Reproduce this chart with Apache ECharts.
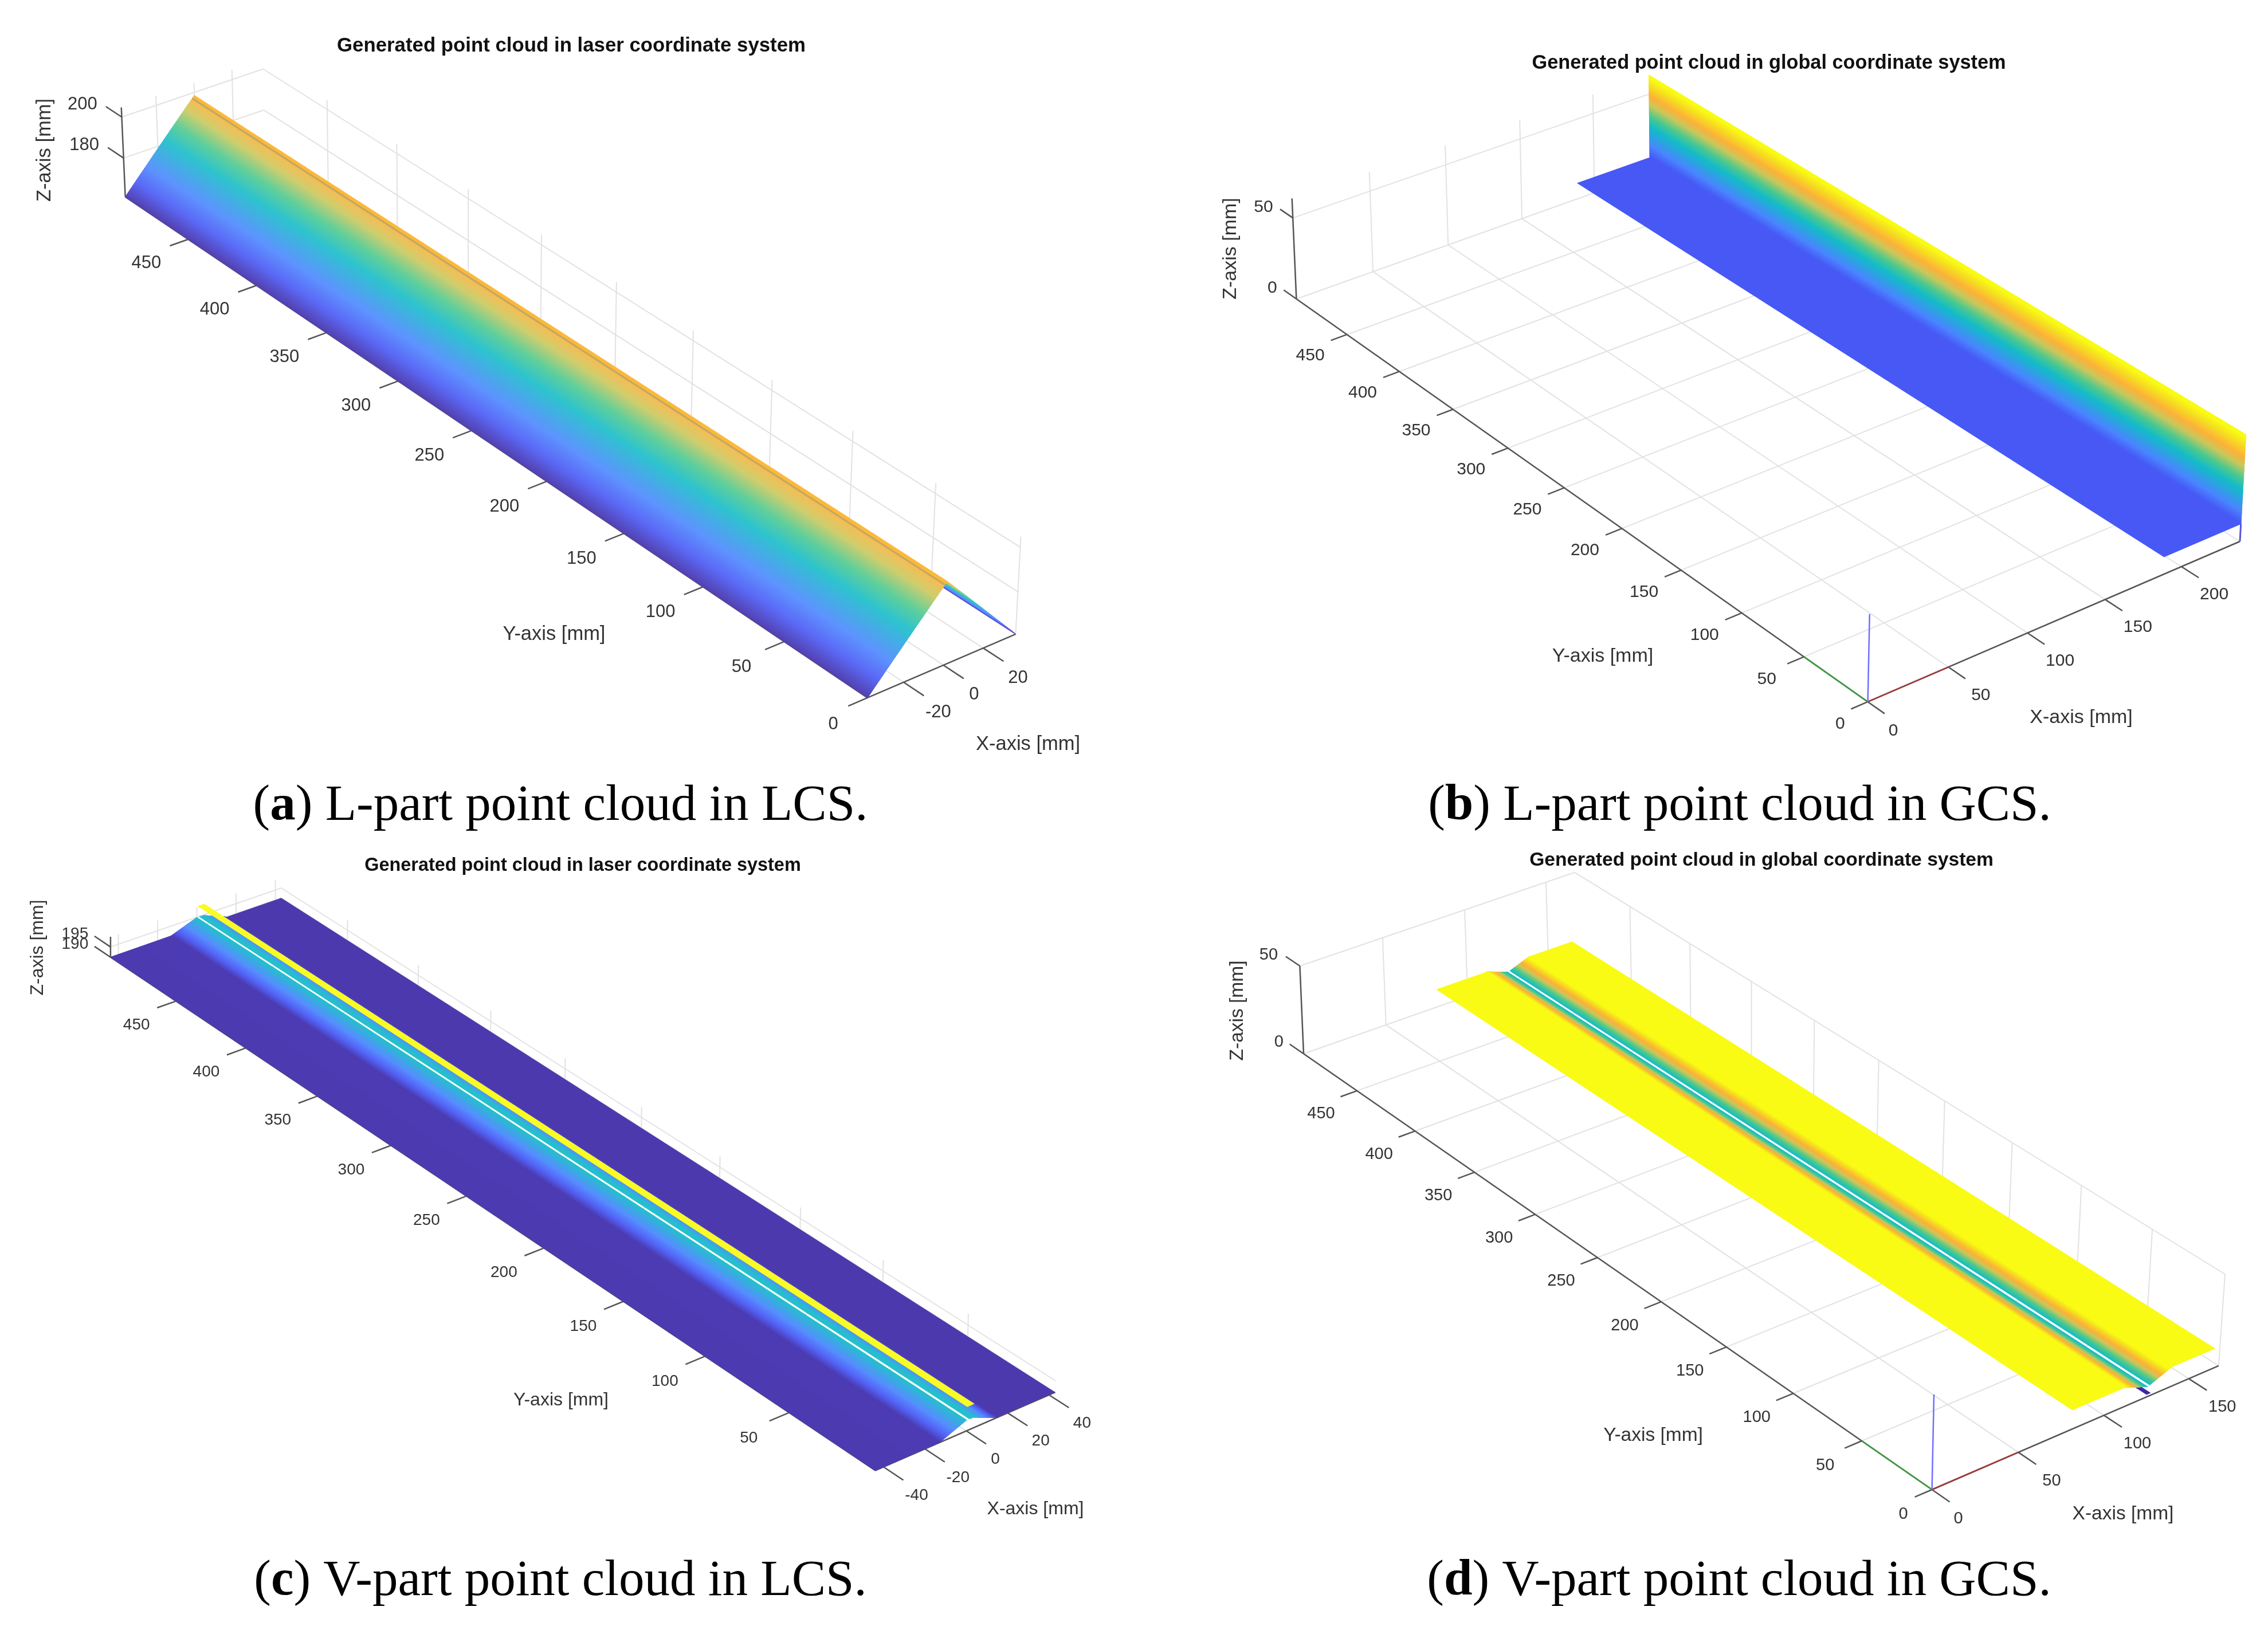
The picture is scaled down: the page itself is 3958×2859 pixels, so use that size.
<!DOCTYPE html>
<html><head><meta charset="utf-8">
<style>html,body{margin:0;padding:0;background:#fff}#c{width:3958px;height:2859px}</style>
<script src="https://cdn.jsdelivr.net/npm/echarts@6/dist/echarts.min.js"></script>
</head><body><div id="c"></div>
<script>
// ---------- values (mm) ----------
const aXTicks=[-20,0,20], aYTicks=[0,50,100,150,200,250,300,350,400,450], aZTicks=[180,200];
const aBackX=[36.3,0], aBackZ=[161,198.5];
const aFrontX=[0,-38.2], aFrontZ=[198.5,161];
const aCrestX=[-0.45,-1.1], aCrestZ=[198.05,197.4];

const bXTicks=[0,50,100,150,200], bYTicks=[0,50,100,150,200,250,300,350,400,450], bZTicks=[0,50];
const bWallX=[239,239], bWallZ=[62,10];
const bPlateX=[239,188], bPlateZ=[10,10];

const cXTicks=[-40,-20,0,20,40], cYTicks=[50,100,150,200,250,300,350,400,450], cZTicks=[190,195];
const cRightX=[43,15,3.5,1.4], cRightZ=[190,190,194.6,194.8];
const cRidgeX=[3.8,0.3], cRidgeZ=[200.4,200.4];
const cLeftX=[0,-13,-44], cLeftZ=[194.8,190.1,190];

const dXTicks=[0,50,100,150], dYTicks=[0,50,100,150,200,250,300,350,400,450], dZTicks=[0,50];
const dRidgeX=[127.5,125], dRidgeZ=[1.2,1.2];
const dRightX=[165,138.7,126.5], dRightZ=[10.5,10.5,6];
const dLeftX=[125,112,81], dLeftZ=[5.7,10.2,10.2];

// parula-like colour scale as it looks in the figure
const scale=[[0,'#3e2aa8'],[.12,'#4757f5'],[.25,'#4a86ff'],[.46,'#14bcc8'],[.58,'#4cc98f'],[.70,'#c8c85c'],[.80,'#fdb13a'],[.92,'#f5e020'],[1,'#f9fb15']];
const rgb=h=>[1,3,5].map(i=>parseInt(h.substr(i,2),16));
function colour(t,lift){t=Math.max(0,Math.min(1,t));
  let c=rgb(scale[scale.length-1][1]);
  for(let i=1;i<scale.length;i++) if(t<=scale[i][0]){
    const a=scale[i-1],b=scale[i],f=(t-a[0])/(b[0]-a[0]),A=rgb(a[1]),B=rgb(b[1]);
    c=A.map((v,k)=>v+(B[k]-v)*f);break;}
  return 'rgb('+c.map(v=>Math.round(v+(255-v)*lift)).join(',')+')';}

// ---------- panels: view of each 3D box ----------
const panels=[
 {xr:[-38.2,36.3],yr:[0,497],zr:[161,204.7],gx:1,gy:1.13,clim:[161,207],lift:.11,surf:[0,497],
  nl:[1513.8,1217.9],nr:[1772.4,1106.8],fl:[218.7,343.8],fr:[462,260],
  nlT:[1520,1047.5],nrT:[1781.6,936.8],flT:[211.7,187.5],frT:[458.8,103.7],
  xT:aXTicks,yT:aYTicks,zT:aZTicks,layers:[[aBackX,aBackZ],[aFrontX,aFrontZ]],
  crest:[[aCrestX[0],aCrestZ[0],'#fbb938',5],[aCrestX[1],aCrestZ[1],'rgba(170,160,110,.7)',3]],
  kY:.13,kX:.024,kZ:.024,fs:31,ns:34.5,
  oY:[-41,31],oX:[25,29],oZ:[-41,-4],o0:[-26,32],oX0:[18,28],
  names:[[78,262,'Z-axis [mm]',1],[967,1107,'Y-axis [mm]',0],[1794,1299,'X-axis [mm]',0]]},
 {xr:[0,239],yr:[0,499.3],zr:[0,62],gx:1.045,gy:1.13,clim:[3,60],lift:0,surf:[0,499.3],
  nl:[3259.6,1224.9],nr:[3909,945],fl:[2262.4,521.8],fr:[2879.5,302],
  nlT:[3263.5,1035],nrT:[3919.3,758.4],flT:[2254.7,346.4],frT:[2877.8,131],
  xT:bXTicks,yT:bYTicks,zT:bZTicks,layers:[[bWallX,bWallZ],[bPlateX,bPlateZ]],
  kY:.043,kX:.026,kZ:.025,fs:30,ns:34,triad:50,post:[239,0,0,239,0,10],
  oY:[-36,27],oX:[27,29],oZ:[-29,-3],oZ0:[-20,-4],o0:[-19,26],oX0:[15,30],
  names:[[2148,434,'Z-axis [mm]',1],[2797,1146,'Y-axis [mm]',0],[3632,1253,'X-axis [mm]',0]]},
 {xr:[-44,43],yr:[0,498],zr:[190,200],gx:1,gy:1.14,clim:[190,200.4],lift:.07,surf:[0,498],
  nl:[1527.7,2566.7],nr:[1841.5,2430],fl:[192.9,1670.7],fr:[490.8,1567.3],
  nlT:[1527.7,2527],nrT:[1842.5,2390],flT:[192.9,1635],frT:[490.8,1532.7],
  xT:cXTicks,yT:cYTicks,zT:cZTicks,layers:[[cRightX,cRightZ],[cRidgeX,cRidgeZ],[cLeftX,cLeftZ]],
  kY:.11,kX:.0225,kZ:.024,fs:28,ns:32,
  oY:[-36,30],oX:[23,27],oZ:[-34,-4],oX0:[16,27],
  names:[[66,1654,'Z-axis [mm]',1],[979,2444,'Y-axis [mm]',0],[1807,2634,'X-axis [mm]',0]]},
 {xr:[0,167.7],yr:[0,497],zr:[0,50],gx:1.015,gy:1.125,clim:[2.4,10],lift:0,surf:[0,497],
  nl:[3371.6,2600],nr:[3871.8,2383.9],fl:[2275,1839.3],fr:[2752,1672],
  nlT:[3375,2434],nrT:[3883,2224],flT:[2268.4,1686],frT:[2748,1522.7],
  xT:dXTicks,yT:dYTicks,zT:dZTicks,layers:[[dRidgeX,dRidgeZ],[dRightX,dRightZ],[dLeftX,dLeftZ]],
  kY:.059,kX:.025,kZ:.025,fs:29,ns:33.5,triad:50,
  oY:[-34,30],oX:[27,29],oZ:[-30,-2],oZ0:[-19,-3],o0:[-20,30],oX0:[15,30],
  names:[[2160,1764,'Z-axis [mm]',1],[2885,2506,'Y-axis [mm]',0],[3705,2643,'X-axis [mm]',0]]}
];
const titles=[['Generated point cloud in laser coordinate system',992,78,34.8],
 ['Generated point cloud in global coordinate system',3082,108.5,34.3],
 ['Generated point cloud in laser coordinate system',1012,1509,32.4],
 ['Generated point cloud in global coordinate system',3069,1499,33.6]];
const captions=[['a',') L-part point cloud in LCS.',973,1408],['b',') L-part point cloud in GCS.',3031,1408],
 ['c',') V-part point cloud in LCS.',973,2761],['d',') V-part point cloud in GCS.',3030,2761]];

// ---------- projection ----------
const warp=(t,g)=>t*g/(1+t*(g-1));
const mix=(a,b,t)=>[a[0]+(b[0]-a[0])*t,a[1]+(b[1]-a[1])*t];
function project(p,x,y,z){
  const u=warp((x-p.xr[0])/(p.xr[1]-p.xr[0]),p.gx),v=warp((y-p.yr[0])/(p.yr[1]-p.yr[0]),p.gy),w=(z-p.zr[0])/(p.zr[1]-p.zr[0]);
  const lo=mix(mix(p.nl,p.nr,u),mix(p.fl,p.fr,u),v),hi=mix(mix(p.nlT,p.nrT,u),mix(p.flT,p.frT,u),v);
  return mix(lo,hi,w);
}

function lineSeries(p,rows,style,z){
  return {type:'custom',coordinateSystem:'cartesian2d',silent:true,animation:false,clip:false,z,
    data:rows.map(r=>r.slice(0,2)),
    renderItem(params,api){const r=rows[params.dataIndex];
      const a=api.coord(project(p,r[0],r[1],r[2])),b=api.coord(project(p,r[3],r[4],r[5]));
      const s=Object.assign({fill:null},style);
      if(r[6]) s.stroke=r[6];
      if(r[7]) s.lineWidth=r[7];
      return {type:'line',shape:{x1:a[0],y1:a[1],x2:b[0],y2:b[1]},style:s};}};
}
function surfaceSeries(p,z){
  const rows=[];
  p.layers.forEach(l=>{for(let i=0;i+1<l[0].length;i++) rows.push([l[0][i],l[1][i],l[0][i+1],l[1][i+1]]);});
  const T=v=>(v-p.clim[0])/(p.clim[1]-p.clim[0]);
  return {type:'custom',coordinateSystem:'cartesian2d',silent:true,animation:false,clip:false,z,
    data:rows.map(r=>r.slice(0,2)),
    renderItem(params,api){const r=rows[params.dataIndex];
      const dt=Math.abs(T(r[1])-T(r[3])),n=dt<.005?1:Math.ceil(dt*160);
      const kids=[];
      for(let i=0;i<n;i++){
        const f0=i/n,f1=(i+1)/n,x0=r[0]+(r[2]-r[0])*f0,x1=r[0]+(r[2]-r[0])*f1,z0=r[1]+(r[3]-r[1])*f0,z1=r[1]+(r[3]-r[1])*f1;
        const col=colour(T((z0+z1)/2),p.lift);
        const pts=[[x0,p.surf[0],z0],[x1,p.surf[0],z1],[x1,p.surf[1],z1],[x0,p.surf[1],z0]].map(q=>api.coord(project(p,q[0],q[1],q[2])));
        kids.push({type:'polygon',shape:{points:pts},style:{fill:col,stroke:col,lineWidth:n>1?1.2:0}});
      }
      return {type:'group',children:kids};}};
}
function textSeries(rows,z){
  return {type:'custom',coordinateSystem:'cartesian2d',silent:true,animation:false,clip:false,z,
    data:rows.map(r=>[r[0],r[1]]),
    renderItem(params,api){const r=rows[params.dataIndex],c=api.coord([r[0],r[1]]);
      return {type:'text',x:c[0],y:c[1],rotation:r[5]?Math.PI/2:0,
        style:{text:r[2],fontSize:r[3],fontFamily:'Liberation Sans',fill:r[4],align:'center',verticalAlign:'middle'}};}};
}

const series=[];
panels.forEach(p=>{
  const [x0,x1]=p.xr,[y0,y1]=p.yr,[z0,z1]=p.zr;
  const grid=[],axis=[],ticks=[],labels=[];
  p.yT.forEach(y=>{grid.push([x0,y,z0,x1,y,z0],[x1,y,z0,x1,y,z1]);
    ticks.push([x0,y,z0,x0-p.kY*(x1-x0),y,z0]);
    const e=project(p,x0-p.kY*(x1-x0),y,z0),o=y===0?p.o0:p.oY;
    labels.push([e[0]+o[0],e[1]+o[1],String(y),p.fs,'#333',0]);});
  p.xT.forEach(x=>{grid.push([x,y0,z0,x,y1,z0],[x,y1,z0,x,y1,z1]);
    ticks.push([x,y0,z0,x,y0-p.kX*(y1-y0),z0]);
    const e=project(p,x,y0-p.kX*(y1-y0),z0),o=(x===0&&p.oX0)?p.oX0:p.oX;
    labels.push([e[0]+o[0],e[1]+o[1],String(x),p.fs,'#333',0]);});
  p.zT.forEach(z=>{grid.push([x0,y1,z,x1,y1,z],[x1,y0,z,x1,y1,z]);
    ticks.push([x0,y1,z,x0,y1+p.kZ*(y1-y0),z]);
    const e=project(p,x0,y1+p.kZ*(y1-y0),z),o=(z===0&&p.oZ0)?p.oZ0:p.oZ;
    labels.push([e[0]+o[0],e[1]+o[1],String(z),p.fs,'#333',0]);});
  axis.push([x0,y0,z0,x1,y0,z0],[x0,y0,z0,x0,y1,z0],[x0,y1,z0,x0,y1,z1]);
  p.names.forEach(n=>labels.push([n[0],n[1],n[2],p.ns,'#333',n[3]]));
  series.push(lineSeries(p,grid,{stroke:'#e2e2e2',lineWidth:2},1));
  series.push(lineSeries(p,axis.concat(ticks),{stroke:'#555',lineWidth:2.5},2));
  if(p.post) series.push(lineSeries(p,[p.post.concat(['#5a55d8'])],{lineWidth:3},3));
  series.push(surfaceSeries(p,4));
  if(p.crest) series.push(lineSeries(p,p.crest.map(c=>[c[0],y0,c[1],c[0],y1,c[1],c[2],c[3]]),{},5));
  if(p.triad){const t=p.triad;
    series.push(lineSeries(p,[[0,0,0,t,0,0,'#a33a3a'],[0,0,0,0,t,0,'#3f9a3f'],[0,0,0,0,0,t,'#6f6fff']],{lineWidth:2.5},5));}
  series.push(textSeries(labels,6));
});

const titleOpts=[];
titles.forEach(t=>titleOpts.push({text:t[0],left:t[1],top:t[2]-t[3]*.58,textAlign:'center',
  textStyle:{fontFamily:'Liberation Sans',fontWeight:'bold',fontSize:t[3],color:'#111'}}));
captions.forEach(c=>titleOpts.push({text:'({b|'+c[0]+'}'+c[1],left:c[2],top:c[3]-50,textAlign:'center',
  textStyle:{fontFamily:'Liberation Serif',fontWeight:'normal',fontSize:89,color:'#000',
    rich:{b:{fontFamily:'Liberation Serif',fontWeight:'bold',fontSize:89,color:'#000'}}}}));

const chart=echarts.init(document.getElementById('c'),null,{renderer:'canvas'});
chart.setOption({animation:false,backgroundColor:'#fff',title:titleOpts,
  grid:{left:0,right:0,top:0,bottom:0},
  xAxis:{type:'value',min:0,max:3958,show:false},
  yAxis:{type:'value',min:0,max:2859,inverse:true,show:false},
  tooltip:{show:false},series});
</script></body></html>
